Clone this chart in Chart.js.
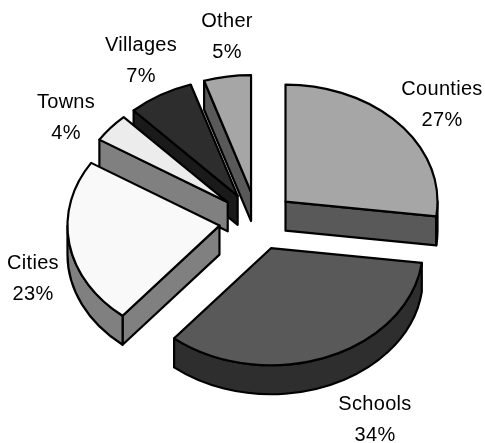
<!DOCTYPE html>
<html>
<head>
<meta charset="utf-8">
<title>Exploded pie</title>
<style>
  html, body { margin: 0; padding: 0; background: #fff; }
  canvas { display: block; }
</style>
<script src="https://cdn.jsdelivr.net/npm/chart.js@4"></script>
</head>
<body>
<canvas id="pie" width="485" height="443"></canvas>
<script>
// chart data
const categories = ['Counties', 'Schools', 'Cities', 'Towns', 'Villages', 'Other'];
const shares = [27, 34, 23, 4, 7, 5];

// greys for the top of each slice and for its side wall
const topColors = ['#a6a6a6', '#595959', '#f9f9f9', '#ececec', '#2d2d2d', '#a6a6a6'];
const sideColors = ['#595959', '#2e2e2e', '#808080', '#808080', '#1a1a1a', '#595959'];

// label centres, first line y
const labelX = [442, 375, 33, 66, 141, 227];
const labelY = [89, 404, 263, 102, 45, 21];

const squash = 0.77;    // tilt of the pie
const depth = 29;       // height of the side wall
const explode = 38;     // how far each slice is pulled out
const lineGap = 31;

// pie slices come from the library, this plugin tilts them and adds walls and outlines
const tiltPlugin = {
    id: 'tilt',
    beforeDatasetsDraw(chart) {
        const ctx = chart.ctx;
        const arcs = chart.getDatasetMeta(0).data;
        const cy = (chart.chartArea.top + chart.chartArea.bottom) / 2;

        ctx.lineWidth = 2.2;
        ctx.lineJoin = 'round';
        ctx.strokeStyle = '#000';

        // back slices first
        for (let i = arcs.length - 1; i >= 0; i--) {
            const arc = arcs[i];
            const { x, y, startAngle, endAngle, outerRadius } = arc.getProps(['x', 'y', 'startAngle', 'endAngle', 'outerRadius']);
            const mid = (startAngle + endAngle) / 2;
            const ax = x + Math.cos(mid) * explode;
            const ay = cy + (y + Math.sin(mid) * explode - cy) * squash;
            const ry = outerRadius * squash;

            ctx.fillStyle = sideColors[i];

            // straight walls that face the viewer
            [[startAngle, -Math.PI / 2], [endAngle, Math.PI / 2]].forEach(([t, turn]) => {
                if (Math.sin(t + turn) <= 0.001) return;
                const px = ax + Math.cos(t) * outerRadius;
                const py = ay + Math.sin(t) * ry;
                ctx.beginPath();
                ctx.moveTo(ax, ay);
                ctx.lineTo(px, py);
                ctx.lineTo(px, py + depth);
                ctx.lineTo(ax, ay + depth);
                ctx.closePath();
                ctx.fill();
                ctx.stroke();
            });

            // curved wall, only the lower half of the rim shows
            const from = Math.max(startAngle, 0);
            const to = Math.min(endAngle, Math.PI);
            if (to > from) {
                ctx.beginPath();
                ctx.ellipse(ax, ay, outerRadius, ry, 0, from, to);
                ctx.ellipse(ax, ay + depth, outerRadius, ry, 0, to, from, true);
                ctx.closePath();
                ctx.fill();
                ctx.stroke();
            }

            // top of the slice
            ctx.save();
            ctx.translate(ax, ay);
            ctx.scale(1, squash);
            ctx.translate(-x, -y);
            arc.draw(ctx);
            ctx.restore();

            ctx.beginPath();
            ctx.moveTo(ax, ay);
            ctx.ellipse(ax, ay, outerRadius, ry, 0, startAngle, endAngle);
            ctx.closePath();
            ctx.stroke();
        }

        // labels
        ctx.fillStyle = '#000';
        ctx.font = '20px "Liberation Sans", Arial, sans-serif';
        ctx.letterSpacing = '0.3px';
        ctx.textAlign = 'center';
        ctx.textBaseline = 'middle';
        categories.forEach((name, i) => {
            ctx.fillText(name, labelX[i], labelY[i]);
            ctx.fillText(shares[i] + '%', labelX[i], labelY[i] + lineGap);
        });

        return false; // slices are done, skip the flat draw
    }
};

new Chart(document.getElementById('pie'), {
    type: 'pie',
    data: {
        labels: categories,
        datasets: [{
            data: shares,
            backgroundColor: topColors,
            borderWidth: 0
        }]
    },
    options: {
        responsive: false,
        animation: false,
        radius: 152,
        layout: { padding: { left: 29, right: 0, top: 0, bottom: 1 } },
        plugins: { legend: { display: false }, tooltip: { enabled: false } }
    },
    plugins: [tiltPlugin]
});
</script>
</body>
</html>
